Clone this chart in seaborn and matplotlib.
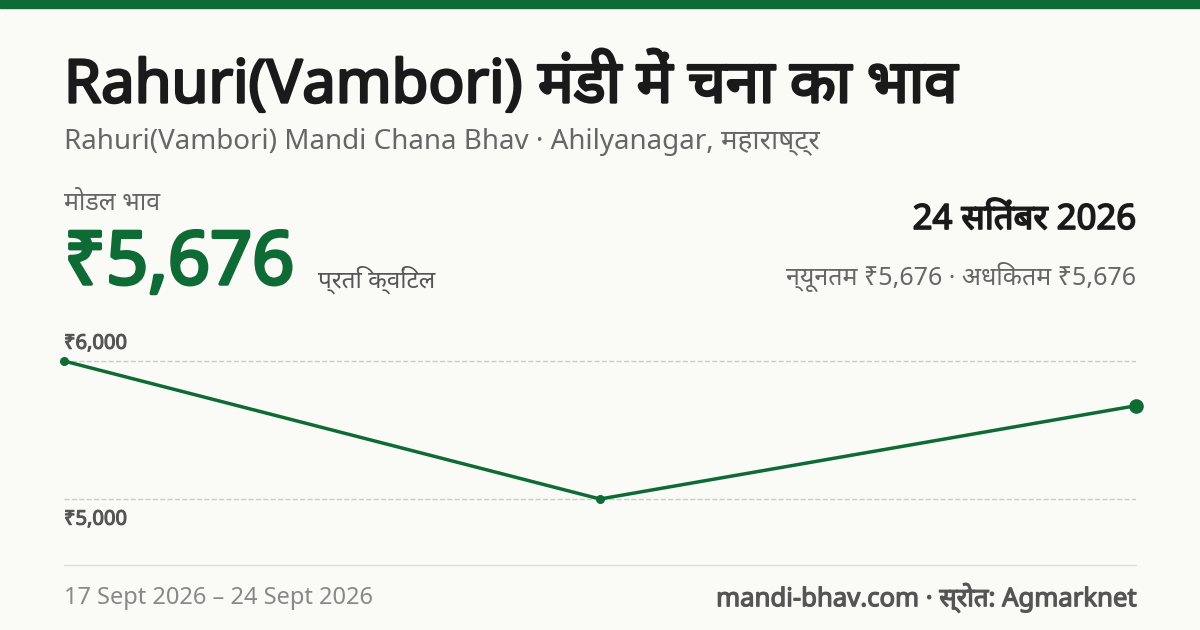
import matplotlib
matplotlib.use("Agg")
import matplotlib.pyplot as plt
import matplotlib.patheffects as pe
import seaborn as sns
import pandas as pd
from matplotlib.lines import Line2D
from matplotlib.patches import Rectangle

dates = ["17 Sept", "20 Sept", "24 Sept"]
prices = [6000, 5000, 5676]
xpos = [0, 1, 2]
ticks = [5000, 6000]
tick_labels = ["₹5,000", "₹6,000"]

sns.set_theme(style="white")
plt.rcParams['font.family'] = ['Noto Sans', 'Noto Sans Devanagari', 'DejaVu Sans']

W, H = 1200, 630
fig = plt.figure(figsize=(12, 6.3), dpi=100, facecolor="#fafaf7")
green = "#0f6b35"
fig.patches.append(Rectangle((0, 1 - 8 / H), 1, 8 / H, transform=fig.transFigure, color=green))

def bold(c, w):
    return [pe.withStroke(linewidth=w, foreground=c)]

def t(x, y, s, b=0, **kw):
    if b:
        kw["path_effects"] = bold(kw["color"], b)
    fig.text(x / W, 1 - y / H, s, **kw)

t(64, 85, "Rahuri(Vambori) मंडी में चना का भाव", b=1.9, fontsize=43, color="#1a1a1a", va="center")
t(64, 142, "Rahuri(Vambori) Mandi Chana Bhav · Ahilyanagar, महाराष्ट्र", fontsize=20, color="#666666", va="center")
t(64, 203, "मोडल भाव", fontsize=18, color="#666666", va="center")
t(64, 265, "₹5,676", b=2.5, fontsize=53, color=green, va="center")
t(318, 280, "प्रति क्विंटल", fontsize=17.5, color="#555555", va="center")
t(1136, 220, "24 सितंबर 2026", b=1.2, fontsize=25, color="#1a1a1a", va="center", ha="right")
t(1136, 277, "न्यूनतम ₹5,676 · अधिकतम ₹5,676", fontsize=18, color="#666666", va="center", ha="right")
t(64, 598, "17 Sept 2026 – 24 Sept 2026", fontsize=17, color="#888888", va="center")
t(1136, 598, "mandi-bhav.com · स्रोत: Agmarknet", b=0.9, fontsize=18.5, color="#555555", va="center", ha="right")
fig.lines.append(Line2D([64 / W, 1136 / W], [1 - 565 / H] * 2, transform=fig.transFigure, color="#dddddd", lw=1))

top, bot = 340, 520
ax = fig.add_axes([64 / W, 1 - bot / H, (1136 - 64) / W, (bot - top) / H])
ax.set_facecolor("none")
df = pd.DataFrame({"x": xpos, "price": prices})
sns.lineplot(data=df, x="x", y="price", ax=ax, color=green, lw=2.5)
ax.scatter(xpos[:2], prices[:2], s=30, color=green, zorder=3, clip_on=False)
ax.scatter(xpos[2:], prices[2:], s=90, color=green, zorder=3, clip_on=False)
ax.set_xlim(0, 2)
ax.set_ylim(5000 - 21 / 138 * 1000, 6000 + 21 / 138 * 1000)
for v, lab in zip(ticks, tick_labels):
    ax.axhline(v, color="#cccccc", ls="--", lw=1, zorder=0)
    ax.text(0, v + (125 if v == 6000 else -150), lab, fontsize=14.5, color="#555555",
            va="center", ha="left", clip_on=False, path_effects=bold("#555555", 0.8))
ax.axis("off")
fig.savefig("out.png", dpi=100, facecolor=fig.get_facecolor())
